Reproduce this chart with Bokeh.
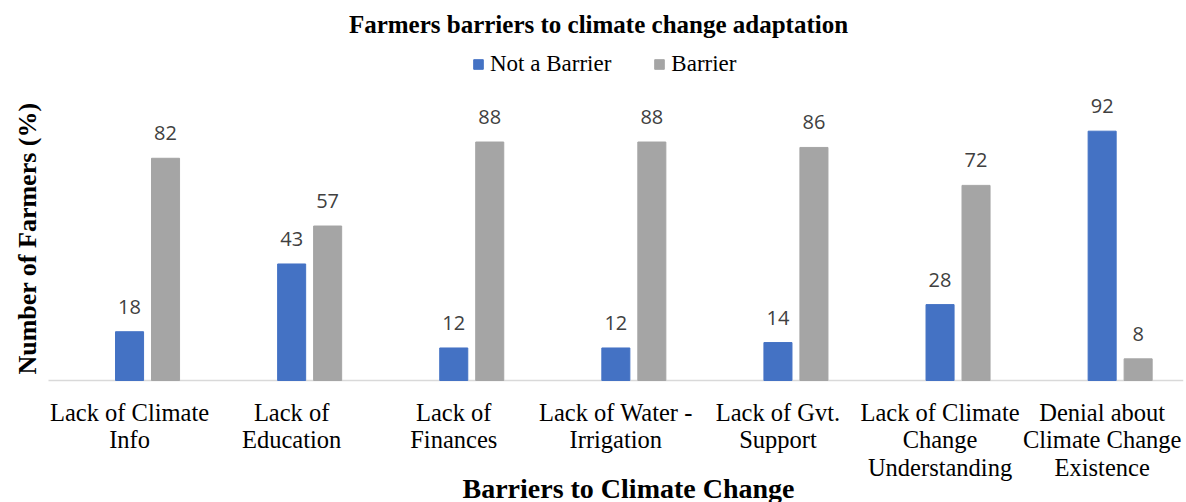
from bokeh.plotting import figure
from bokeh.models import (ColumnDataSource, Range1d, LabelSet, Label, Legend, LegendItem)
from bokeh.core.properties import value
from bokeh.embed import file_html
from bokeh.resources import INLINE
import numpy as np
import math

categories = ["Lack of Climate Info", "Lack of Education", "Lack of Finances",
              "Lack of Water - Irrigation", "Lack of Gvt. Support",
              "Lack of Climate Change Understanding",
              "Denial about Climate Change Existence"]
category_labels = ["Lack of Climate\nInfo", "Lack of\nEducation", "Lack of\nFinances",
                   "Lack of Water -\nIrrigation", "Lack of Gvt.\nSupport",
                   "Lack of Climate\nChange\nUnderstanding",
                   "Denial about\nClimate Change\nExistence"]
not_a_barrier = [18, 43, 12, 12, 14, 28, 92]
barrier = [82, 57, 88, 88, 86, 72, 8]

BLUE = "#4472C4"
GRAY = "#A5A5A5"
SERIF = "Liberation Serif"

W, H = 1186, 502
n = len(categories)
PX_PER_CAT = 162.1
LEFT = 48.0
BASE = 380.0
PX_PER_UNIT = 2.71

BW = 0.173
OFF = 0.222
xc = np.arange(n) + 0.5

src = ColumnDataSource(dict(
    x_nb=xc,
    x_b=xc + OFF,
    nb=not_a_barrier,
    b=barrier,
    nb_t=[str(v) for v in not_a_barrier],
    b_t=[str(v) for v in barrier],
    zero=[0] * n,
))

x_range = Range1d(-LEFT / PX_PER_CAT, (W - LEFT) / PX_PER_CAT)
y_range = Range1d(-(H - BASE) / PX_PER_UNIT, BASE / PX_PER_UNIT)

p = figure(width=W, height=H, x_range=x_range, y_range=y_range,
           output_backend="svg", toolbar_location=None,
           min_border=0, min_border_left=0, min_border_right=0,
           min_border_top=0, min_border_bottom=0)
p.outline_line_color = None
p.grid.visible = False
p.axis.visible = False
p.background_fill_color = "white"

# category axis baseline
p.segment(x0=[0], x1=[n], y0=[0], y1=[0], line_color="#D9D9D9", line_width=1.5)

r1 = p.vbar(x="x_nb", top="nb", bottom=0, width=BW, source=src,
            fill_color=BLUE, line_color=BLUE)
r2 = p.vbar(x="x_b", top="b", bottom=0, width=BW, source=src,
            fill_color=GRAY, line_color=GRAY)

lab_kw = dict(text_font=value("Open Sans"), text_font_size="20px", text_color="#404040",
              text_align="center", text_baseline="alphabetic", y_offset=18)
p.add_layout(LabelSet(x="x_nb", y="nb", text="nb_t", source=src, **lab_kw))
p.add_layout(LabelSet(x="x_b", y="b", text="b_t", source=src, **lab_kw))

# category labels, one centred line at a time
split = [s.split("\n") for s in category_labels]
max_lines = max(len(s) for s in split)
for li in range(max_lines):
    xs = [xc[i] for i, s in enumerate(split) if len(s) > li]
    ts = [s[li] for s in split if len(s) > li]
    lsrc = ColumnDataSource(dict(x=xs, y=[0] * len(xs), t=ts))
    p.add_layout(LabelSet(x="x", y="y", text="t", source=lsrc,
                          text_font=value(SERIF), text_font_size="24.5px",
                          text_color="#000000", text_align="center",
                          text_baseline="top", y_offset=-18 - 27.5 * li))

p.add_layout(Label(x=598, y=H - 24, x_units="screen", y_units="screen",
                   text="Farmers barriers to climate change adaptation",
                   text_font=SERIF, text_font_style="bold", text_font_size="25px",
                   text_align="center", text_baseline="alphabetic", text_color="#000000"))
p.add_layout(Label(x=27, y=H - 238, x_units="screen", y_units="screen",
                   text="Number of Farmers (%)", angle=math.pi / 2,
                   text_font=SERIF, text_font_style="bold", text_font_size="26px",
                   text_align="center", text_baseline="middle", text_color="#000000"))
p.add_layout(Label(x=628, y=H - 488, x_units="screen", y_units="screen",
                   text="Barriers to Climate Change",
                   text_font=SERIF, text_font_style="bold", text_font_size="28px",
                   text_align="center", text_baseline="alphabetic", text_color="#000000"))

legend = Legend(items=[LegendItem(label="Not a Barrier", renderers=[r1]),
                       LegendItem(label="Barrier", renderers=[r2])],
                location=(472, H - 77), orientation="horizontal",
                glyph_width=12, glyph_height=12, label_standoff=6, spacing=42,
                padding=0, margin=0, border_line_color=None,
                background_fill_alpha=0,
                label_text_font=SERIF, label_text_font_size="23px",
                label_text_color="#000000")
p.add_layout(legend, "center")

open("out.html", "w").write(file_html(p, INLINE))
